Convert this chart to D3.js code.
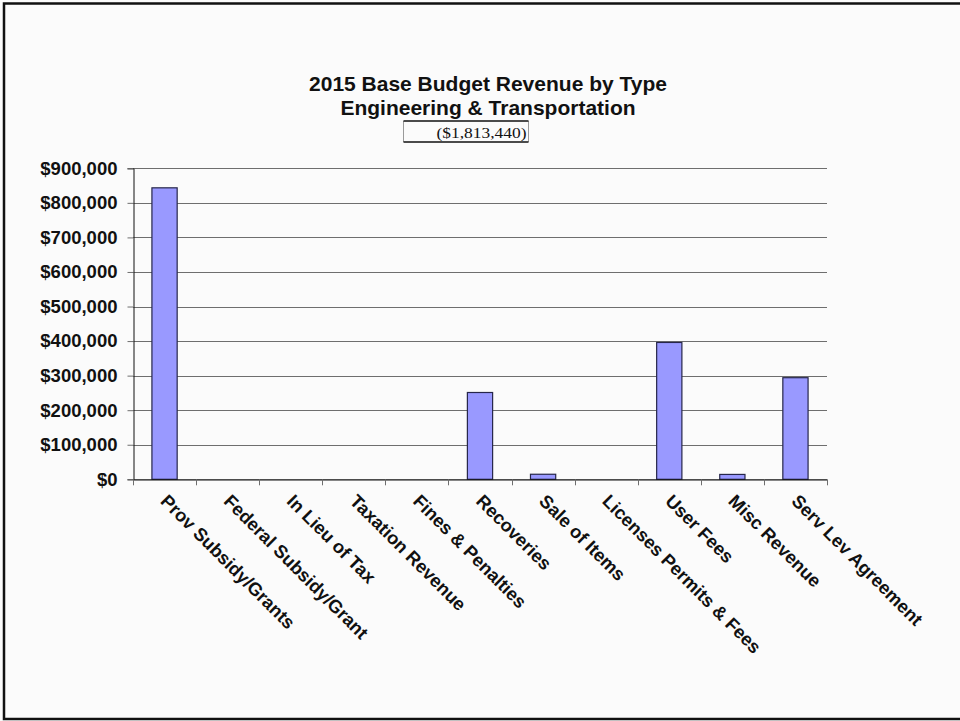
<!DOCTYPE html>
<html>
<head>
<meta charset="utf-8">
<script src="https://cdn.jsdelivr.net/npm/d3@7"></script>
<style>
  html, body { margin: 0; padding: 0; background: #fbfbfb; }
  svg { display: block; }
</style>
</head>
<body>
<svg id="chart" width="960" height="721"></svg>
<script>
// Revenue categories and 2015 base budget amounts
const categories = [
  "Prov Subsidy/Grants", "Federal Subsidy/Grant", "In Lieu of Tax",
  "Taxation Revenue", "Fines & Penalties", "Recoveries", "Sale of Items",
  "Licenses Permits & Fees", "User Fees", "Misc Revenue", "Serv Lev Agreement"
];
const revenue = [843500, 0, 0, 0, 0, 251200, 14600, 0, 396000, 14100, 294040];
const yTicks = [0, 100000, 200000, 300000, 400000, 500000, 600000, 700000, 800000, 900000];
const titleLines = ["2015 Base Budget Revenue by Type", "Engineering & Transportation"];
const totalLabel = "($1,813,440)";

const data = categories.map((c, i) => ({ category: c, value: revenue[i] }));

const svg = d3.select("#chart");
const W = 960, H = 721;
const plot = { left: 133, right: 827, top: 168.3, bottom: 479.3 };
const sans = "'Liberation Sans', Arial, sans-serif";

// Background and outer frame
svg.append("rect").attr("x", 0).attr("y", 0).attr("width", W).attr("height", H).attr("fill", "#fbfbfb");
svg.append("rect")
  .attr("x", 4).attr("y", 3.5).attr("width", W + 10).attr("height", 715.5)
  .attr("fill", "none").attr("stroke", "#111").attr("stroke-width", 2.5);

const x = d3.scaleBand().domain(categories).range([plot.left, plot.right]).paddingInner(0.6).paddingOuter(0.3);
const y = d3.scaleLinear().domain([0, 900000]).range([plot.bottom, plot.top]);
const fmt = v => "$" + d3.format(",")(v);

// Horizontal gridlines
svg.append("g")
  .selectAll("line")
  .data(yTicks.filter(t => t > 0))
  .join("line")
  .attr("x1", plot.left).attr("x2", plot.right)
  .attr("y1", d => Math.round(y(d)) + 0.5).attr("y2", d => Math.round(y(d)) + 0.5)
  .attr("stroke", "#6e6e6e").attr("stroke-width", 1);

// Y axis
const yAxis = svg.append("g")
  .attr("transform", `translate(${plot.left + 0.5},0)`)
  .call(d3.axisLeft(y).tickValues(yTicks).tickFormat(fmt).tickSize(6).tickPadding(10));
yAxis.select(".domain").attr("stroke", "#111");
yAxis.selectAll(".tick line").attr("stroke", "#6e6e6e");
yAxis.selectAll(".tick text")
  .attr("font-family", sans)
  .attr("font-weight", "bold").attr("font-size", 18.5).attr("fill", "#111");

// Bars
svg.append("g")
  .selectAll("rect")
  .data(data.filter(d => d.value > 0))
  .join("rect")
  .attr("x", d => x(d.category))
  .attr("y", d => y(d.value))
  .attr("width", x.bandwidth())
  .attr("height", d => y(0) - y(d.value))
  .attr("fill", "#9999ff")
  .attr("stroke", "#26264a").attr("stroke-width", 1.2);

// X axis: ticks at category boundaries
const boundaries = d3.range(categories.length + 1).map(i => plot.left + i * (plot.right - plot.left) / categories.length);
svg.append("line")
  .attr("x1", plot.left).attr("x2", plot.right)
  .attr("y1", plot.bottom + 0.5).attr("y2", plot.bottom + 0.5)
  .attr("stroke", "#111").attr("stroke-width", 1.2);
svg.append("g")
  .selectAll("line")
  .data(boundaries)
  .join("line")
  .attr("x1", d => Math.round(d) + 0.5).attr("x2", d => Math.round(d) + 0.5)
  .attr("y1", plot.bottom).attr("y2", plot.bottom + 6)
  .attr("stroke", "#6e6e6e");

// Rotated category labels
svg.append("g")
  .selectAll("text")
  .data(categories)
  .join("text")
  .attr("transform", d => `translate(${x(d) + x.bandwidth() / 2 - 5},${plot.bottom + 23}) rotate(45)`)
  .attr("text-anchor", "start")
  .attr("font-family", sans)
  .attr("font-weight", "bold").attr("font-size", 18.3).attr("fill", "#111")
  .text(d => d);

// Title
const title = svg.append("text")
  .attr("text-anchor", "middle")
  .attr("font-family", sans)
  .attr("font-weight", "bold").attr("font-size", 21).attr("fill", "#111");
title.selectAll("tspan")
  .data(titleLines)
  .join("tspan")
  .attr("x", 488).attr("y", (d, i) => 91 + i * 24)
  .text(d => d);

// Total amount box under the title
const box = { x: 403.5, y: 121, w: 125, h: 21 };
svg.append("line").attr("x1", box.x).attr("x2", box.x).attr("y1", box.y).attr("y2", box.y + box.h).attr("stroke", "#9a9a9a");
svg.append("line").attr("x1", box.x + box.w).attr("x2", box.x + box.w).attr("y1", box.y).attr("y2", box.y + box.h).attr("stroke", "#9a9a9a");
svg.append("line").attr("x1", box.x).attr("x2", box.x + box.w).attr("y1", box.y).attr("y2", box.y).attr("stroke", "#111").attr("stroke-width", 1.3);
svg.append("line").attr("x1", box.x).attr("x2", box.x + box.w).attr("y1", box.y + box.h).attr("y2", box.y + box.h).attr("stroke", "#111").attr("stroke-width", 1.3);
svg.append("text")
  .attr("x", box.x + box.w - 2).attr("y", box.y + 17)
  .attr("text-anchor", "end")
  .attr("font-family", "'Liberation Serif', 'Times New Roman', serif")
  .attr("font-size", 15.5).attr("fill", "#111")
  .attr("textLength", 90).attr("lengthAdjust", "spacingAndGlyphs")
  .text(totalLabel);
</script>
</body>
</html>
